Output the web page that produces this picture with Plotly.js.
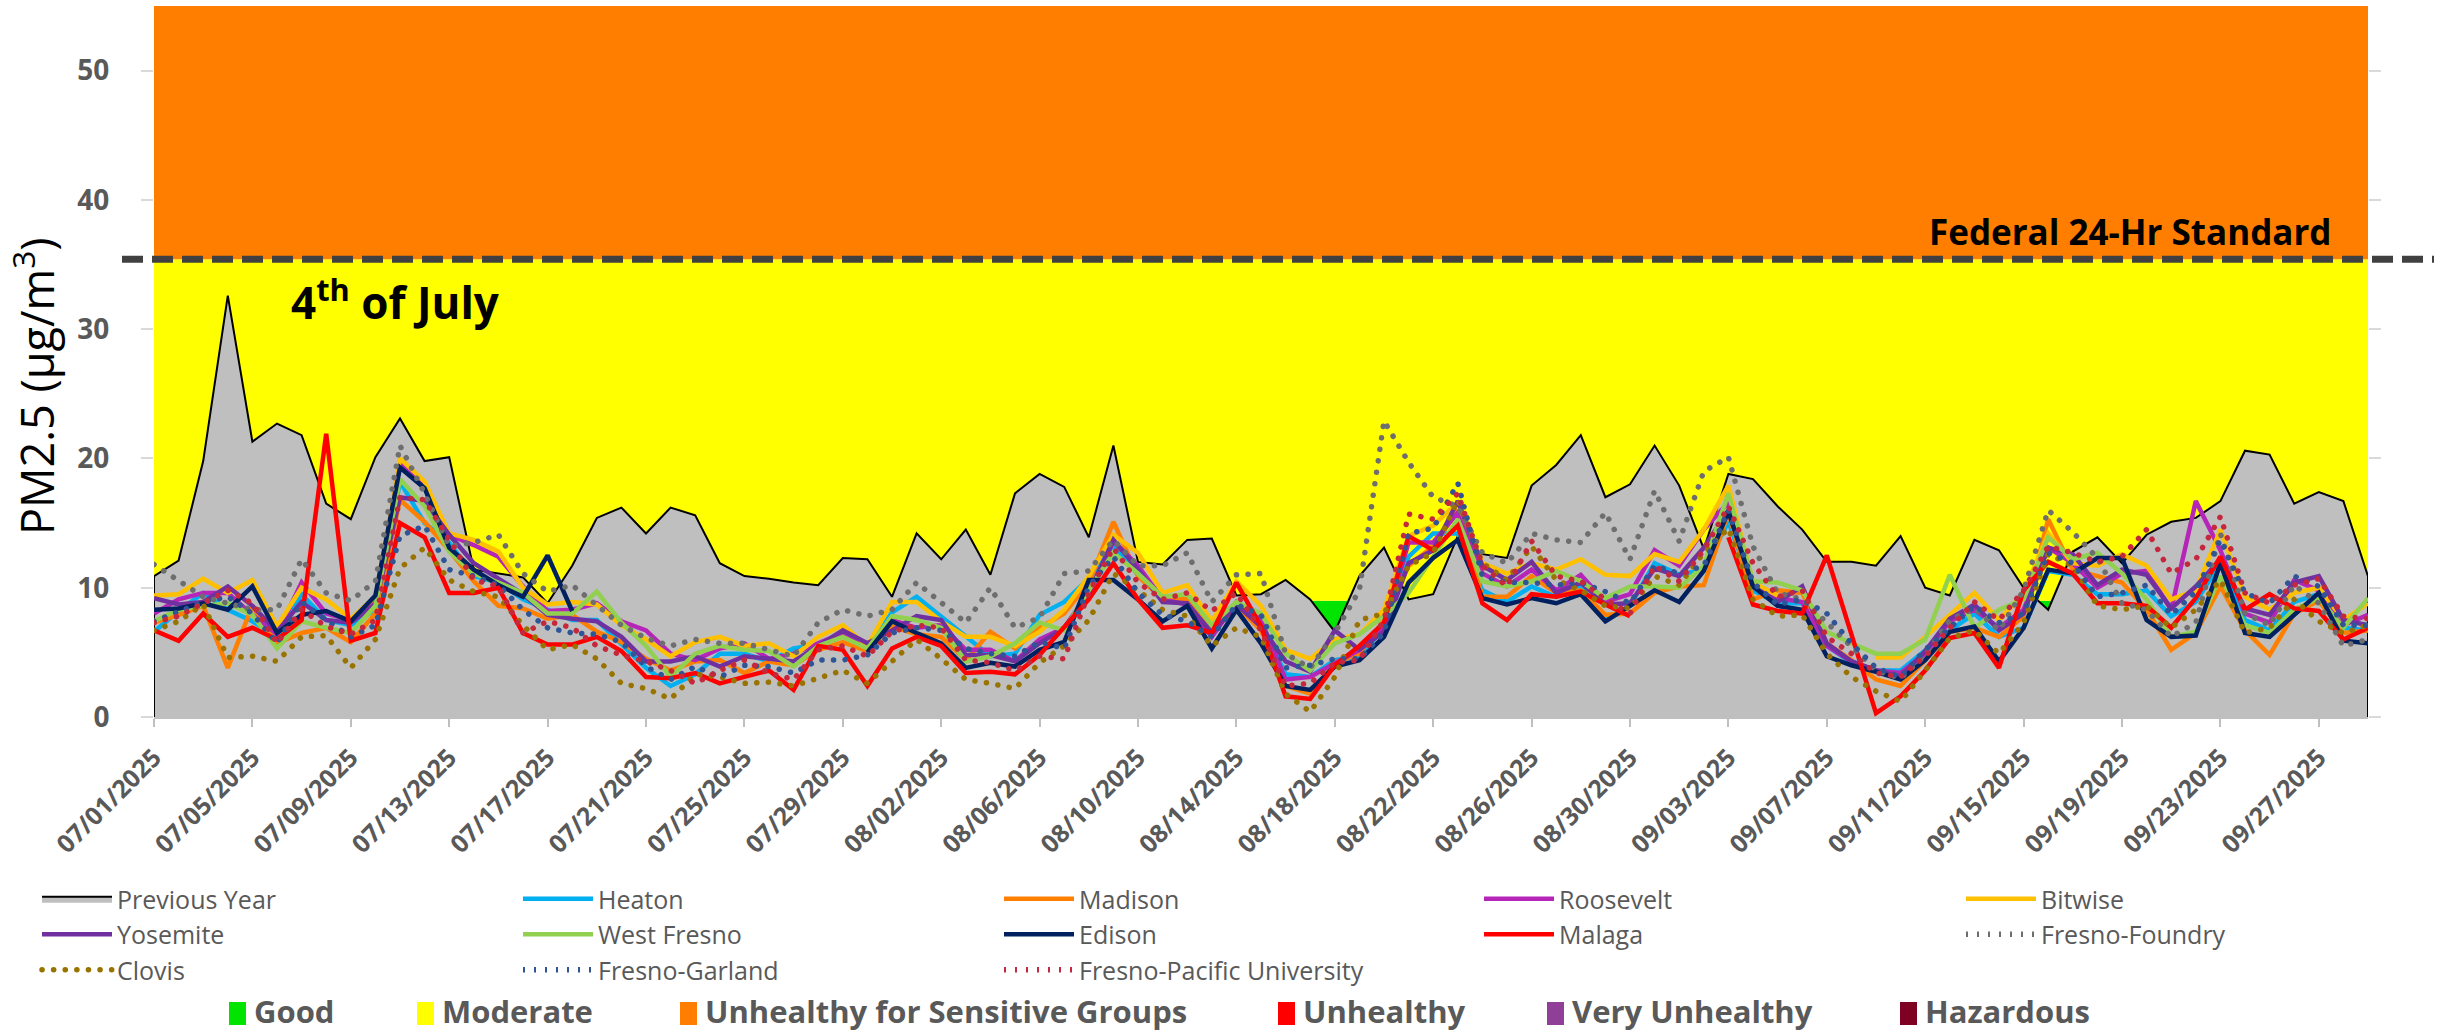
<!DOCTYPE html>
<html><head><meta charset="utf-8">
<script src="https://cdn.plot.ly/plotly-3.0.1.min.js"></script>
<style>html,body{margin:0;padding:0;background:#fff;}#chart{width:2438px;height:1034px;}</style>
</head><body><div id="chart"></div>
<script>
// ---------- categories ----------
const firstDay = '2025-07-01';
const dayCount = 91;
const dates = [];
(function(){ const d0 = new Date(firstDay + 'T00:00:00Z');
  for (let i = 0; i < dayCount; i++) { const d = new Date(d0.getTime() + i*86400000);
    const mm = String(d.getUTCMonth()+1).padStart(2,'0'), dd = String(d.getUTCDate()).padStart(2,'0');
    dates.push(mm + '/' + dd + '/' + d.getUTCFullYear()); } })();
const tickLabels = ['07/01/2025','07/05/2025','07/09/2025','07/13/2025','07/17/2025','07/21/2025','07/25/2025','07/29/2025','08/02/2025','08/06/2025','08/10/2025','08/14/2025','08/18/2025','08/22/2025','08/26/2025','08/30/2025','09/03/2025','09/07/2025','09/11/2025','09/15/2025','09/19/2025','09/23/2025','09/27/2025'];

// ---------- series values (PM2.5, ug/m3) ----------
const previousYear = [10.9,12.1,19.8,32.6,21.3,22.7,21.8,16.5,15.3,20.1,23.1,19.8,20.1,11.4,11.1,10.8,8.8,11.7,15.4,16.2,14.2,16.2,15.6,11.9,10.9,10.7,10.4,10.2,12.3,12.2,9.3,14.2,12.2,14.5,11.0,17.3,18.8,17.8,13.9,21.0,12.0,11.8,13.7,13.8,9.4,9.5,10.6,9.1,6.6,10.9,13.1,9.1,9.5,14.0,12.6,12.3,17.9,19.5,21.8,17.0,18.0,21.0,17.9,13.0,18.8,18.4,16.3,14.5,12.0,12.0,11.7,14.0,10.0,9.4,13.7,12.9,10.0,8.3,12.8,13.9,11.9,14.1,15.1,15.4,16.7,20.6,20.3,16.5,17.4,16.7,10.9];
const heaton = [6.6,8.2,9.6,8.3,7.4,6.2,9.5,7.5,7.1,8.3,18.2,15.0,13.5,10.9,10.4,9.1,8.3,7.5,7.5,5.7,3.8,2.4,3.3,4.9,4.9,4.3,5.3,5.6,6.4,5.2,8.1,9.3,7.8,6.2,4.7,4.9,7.9,8.9,10.7,13.3,11.0,9.5,8.7,6.7,8.7,7.3,3.3,3.1,4.4,4.7,6.9,12.4,14.2,14.2,9.8,8.9,10.1,9.3,10.1,7.5,8.6,11.9,11.0,11.4,15.1,9.8,8.8,8.8,5.5,4.2,3.6,3.6,5.2,6.7,8.0,6.2,6.9,11.3,11.0,9.5,9.5,9.8,7.8,8.9,11.9,7.5,6.7,8.9,9.5,6.9,6.7];
const madison = [7.3,7.9,8.6,3.8,8.6,5.7,6.5,6.9,5.8,8.0,16.8,15.1,12.9,10.5,8.6,8.4,7.6,7.9,6.6,5.8,4.5,3.6,4.3,4.4,3.4,4.3,4.0,5.2,5.8,5.1,7.0,6.4,6.2,4.4,6.6,5.3,6.9,8.0,10.4,15.1,10.9,9.1,9.1,6.5,8.6,6.7,2.4,1.8,4.2,4.9,7.5,11.7,13.2,16.0,9.3,9.3,10.9,9.6,9.8,7.9,8.0,9.6,10.1,10.2,15.8,9.1,9.8,9.6,5.7,4.4,2.9,2.4,4.4,6.6,6.9,6.2,7.8,15.3,11.4,10.9,10.4,8.3,5.2,6.5,10.1,6.7,4.8,8.0,9.0,6.5,6.7];
const roosevelt = [8.0,9.1,9.6,9.6,7.9,6.4,10.4,8.0,7.5,8.9,19.7,17.9,14.1,13.3,12.4,10.1,8.2,8.3,8.8,7.4,6.7,4.9,4.4,5.3,5.7,4.5,4.9,5.7,6.5,5.5,7.5,6.9,7.1,5.2,5.2,4.3,6.0,6.9,9.3,13.6,11.7,9.1,8.7,6.2,8.9,7.5,2.9,3.1,4.2,5.2,6.9,13.5,13.5,15.8,11.1,10.1,11.4,9.8,11.0,8.9,9.5,12.9,11.7,14.5,16.6,10.2,9.2,8.9,5.5,4.3,3.6,3.4,4.9,7.4,8.3,6.9,8.3,13.1,11.9,10.0,11.1,11.3,8.3,16.7,12.9,8.0,7.3,10.6,9.8,7.1,7.9];
const bitwise = [9.4,9.5,10.7,9.6,10.6,7.0,10.0,9.1,7.6,9.3,20.0,18.2,14.2,13.7,12.8,10.0,8.7,8.9,8.7,7.1,6.0,4.7,5.8,6.2,5.5,5.7,4.7,6.2,7.1,5.5,8.9,8.9,7.4,6.2,6.2,5.5,6.6,8.3,10.9,14.1,12.7,9.6,10.2,7.4,10.5,8.6,5.2,4.5,6.0,6.4,8.3,14.0,14.8,16.6,11.9,11.1,11.9,11.4,12.2,11.0,10.9,12.6,12.0,14.5,17.9,10.4,9.4,null,null,null,4.6,4.6,6.2,7.9,9.6,7.5,9.6,14.2,11.9,11.7,12.6,11.7,9.1,9.8,14.5,9.3,8.3,9.6,10.0,7.5,8.8];
const yosemite = [9.2,8.7,8.9,10.1,8.6,6.6,8.9,7.5,7.3,8.7,17.0,16.7,14.1,11.9,10.7,9.5,7.9,7.6,7.4,6.2,4.3,4.3,4.7,3.9,4.7,4.5,4.3,5.5,6.7,5.7,6.7,7.8,7.5,4.8,4.8,4.3,5.7,6.9,9.6,13.7,11.4,8.9,8.8,6.5,8.7,7.0,4.3,3.5,6.7,5.2,6.6,11.9,12.9,16.7,11.7,10.6,12.0,9.6,10.4,8.7,8.8,11.5,10.9,13.1,16.0,10.1,8.9,10.1,5.7,4.3,3.6,3.1,5.1,7.6,8.7,6.7,8.0,13.1,12.6,10.2,11.4,11.0,8.4,10.1,12.2,8.4,7.9,10.4,10.9,7.5,7.1];
const westFresno = [7.4,8.3,8.6,8.8,7.9,5.3,7.4,6.9,6.5,8.6,18.4,16.3,12.8,11.1,10.4,9.6,8.0,8.0,9.7,7.3,5.5,3.1,4.9,5.5,5.2,5.1,3.9,5.5,6.2,5.3,7.8,7.5,6.9,4.3,4.7,5.7,7.3,6.7,9.8,12.7,11.1,9.3,9.5,7.1,8.9,8.0,4.9,3.6,5.7,6.4,7.8,9.6,12.4,15.3,10.5,10.1,10.5,11.3,10.5,9.2,10.1,10.1,10.0,11.7,17.3,10.5,10.4,9.8,6.6,5.7,4.9,4.9,6.0,11.0,6.9,8.3,9.1,13.9,12.2,12.7,11.1,9.1,6.2,6.6,10.9,7.1,6.5,8.3,9.2,6.9,9.2];
const edison = [8.3,8.4,8.8,8.3,10.1,6.5,7.9,8.2,7.4,9.4,19.3,17.7,13.1,11.4,10.2,9.3,12.5,8.2,null,null,null,null,null,null,null,null,null,null,null,5.0,7.4,6.5,5.7,3.8,4.2,3.9,5.2,5.8,10.6,10.6,9.1,7.4,8.6,5.3,8.3,5.7,2.4,2.1,3.9,4.4,6.2,10.4,12.3,13.7,9.2,8.7,9.2,8.8,9.5,7.4,8.6,9.8,8.9,11.3,15.9,10.1,8.6,8.3,4.7,4.0,3.5,2.9,4.4,6.6,7.0,4.3,6.9,11.4,11.1,12.3,12.3,7.5,6.2,6.3,11.9,6.5,6.2,7.9,9.6,5.9,5.7];
const malaga = [6.7,5.9,8.0,6.2,6.9,6.0,7.5,21.9,5.9,6.5,15.0,13.9,9.6,9.6,10.0,6.5,5.6,5.6,6.2,5.1,3.1,3.0,3.4,2.6,3.1,3.6,2.1,5.5,5.2,2.4,5.3,6.2,5.5,3.4,3.5,3.3,4.8,7.0,9.1,11.9,9.1,6.9,7.1,6.5,10.4,7.0,1.6,1.4,4.0,5.5,7.3,14.0,12.9,14.8,8.8,7.5,9.5,9.3,9.7,8.7,7.8,null,null,null,13.9,8.7,8.2,8.0,12.5,6.4,0.3,1.6,3.6,6.1,6.5,3.8,9.8,12.0,11.1,8.8,8.8,8.6,6.9,9.2,12.4,8.3,9.5,8.4,8.2,6.0,6.9];
const fresnoFoundry = [11.8,10.6,9.3,8.8,8.3,8.3,12.2,9.6,9.0,10.5,21.0,17.3,13.2,13.5,14.1,11.1,9.7,10.2,8.6,7.1,6.1,5.5,6.0,5.7,5.7,5.2,4.7,7.3,8.3,7.8,8.3,10.4,8.9,7.3,10.0,6.9,7.7,11.1,11.3,13.7,11.7,11.7,12.7,8.9,11.0,11.1,4.9,3.8,6.5,9.8,22.9,19.7,17.0,16.3,12.7,11.9,14.2,13.7,13.5,15.8,12.2,17.5,13.6,19.0,20.1,13.2,9.6,9.1,7.3,5.5,3.6,3.0,4.8,7.5,8.4,6.7,9.8,16.0,14.3,12.3,8.8,8.3,6.2,7.3,14.2,8.0,7.1,10.2,8.8,5.5,6.0];
const clovis = [6.7,7.4,8.7,4.6,4.7,4.3,6.2,6.3,3.8,6.0,11.5,13.1,10.6,9.7,9.3,7.1,5.2,5.6,4.5,2.6,2.2,1.4,3.3,3.1,2.6,2.7,2.4,3.0,3.6,2.6,4.3,6.0,4.5,2.9,2.6,2.2,4.2,5.5,7.5,11.1,9.8,8.3,7.8,5.5,6.9,6.2,1.8,0.4,3.1,7.5,8.0,11.7,12.7,16.8,11.9,10.6,13.2,10.6,9.8,8.6,8.4,10.9,10.2,12.7,14.6,9.1,7.8,7.9,4.9,3.1,2.0,1.2,3.6,6.1,6.7,4.9,7.3,12.6,11.7,8.6,8.3,8.6,6.9,8.3,10.6,6.5,6.9,9.1,7.4,6.5,7.1];
const fresnoGarland = [7.4,8.2,8.9,9.3,8.0,5.7,8.9,7.5,6.2,7.1,14.0,14.8,11.4,10.9,10.2,8.3,6.9,6.5,6.4,5.8,3.9,2.9,3.9,3.1,4.0,3.9,3.4,4.4,4.4,4.8,6.5,6.9,6.7,5.3,4.9,4.7,5.8,5.3,10.1,12.4,9.6,7.9,7.4,6.2,8.7,7.9,3.8,4.0,4.5,4.5,6.5,14.2,14.6,18.1,10.9,10.4,10.4,10.2,10.4,9.7,8.8,11.7,11.1,11.7,16.0,10.4,8.7,9.1,8.0,5.7,3.8,3.1,5.2,6.9,8.6,7.3,8.0,12.7,11.9,9.3,9.6,10.2,7.9,9.7,13.7,9.6,8.8,10.9,10.1,7.1,7.1];
const fresnoPacific = [7.3,7.8,8.8,9.8,8.8,5.7,8.3,7.0,6.4,7.5,17.0,16.8,13.7,10.6,10.1,6.5,7.4,6.9,5.5,4.8,4.3,3.6,2.6,3.6,4.4,3.4,2.9,5.2,5.5,4.7,6.6,7.1,6.9,4.4,4.2,3.6,4.7,4.5,9.6,13.1,10.4,9.1,9.6,8.2,9.6,6.7,2.4,2.6,4.2,4.4,7.5,15.7,15.3,17.3,11.7,10.1,13.6,10.9,10.5,9.1,8.0,11.7,10.5,12.9,16.3,11.9,9.3,9.8,6.2,4.9,3.4,3.1,4.7,6.9,8.9,7.5,9.8,13.2,12.7,12.0,12.4,14.5,11.1,12.2,15.5,9.6,8.8,10.2,10.7,7.8,7.6];

// AQI categories and thresholds
const aqiNames = ['Good','Moderate','Unhealthy for Sensitive Groups','Unhealthy','Very Unhealthy','Hazardous'];
const aqiColors = ['#00E400','#FFFF00','#FF7E00','#FF0000','#8F3F97','#7E0023'];
const bandEdges = [0, 9, 35.4, 55];
const federalStandard = 35.4;

// ---------- geometry helpers ----------
const L = 154, R = 2368, T = 6, B = 717;
const px = x => (x - L) / (R - L);
const py = y => (B - y) / (B - T);

const stations = [
  {name:'Heaton', y:heaton, color:'#00B0F0', dot:false},
  {name:'Madison', y:madison, color:'#FF8000', dot:false},
  {name:'Roosevelt', y:roosevelt, color:'#B526B8', dot:false},
  {name:'Bitwise', y:bitwise, color:'#FFC000', dot:false},
  {name:'Yosemite', y:yosemite, color:'#7030A0', dot:false},
  {name:'West Fresno', y:westFresno, color:'#92D050', dot:false},
  {name:'Edison', y:edison, color:'#002060', dot:false},
  {name:'Malaga', y:malaga, color:'#FF0000', dot:false},
  {name:'Fresno-Foundry', y:fresnoFoundry, color:'#6E6E6E', dot:true},
  {name:'Clovis', y:clovis, color:'#997300', dot:true},
  {name:'Fresno-Garland', y:fresnoGarland, color:'#2F5597', dot:true},
  {name:'Fresno-Pacific University', y:fresnoPacific, color:'#C5283D', dot:true}
];

// legend columns (5 columns, filled row by row)
const legendIds = ['legend','legend2','legend3','legend4','legend5'];
const legendColX = [48, 529, 1010, 1490, 1972];

const data = [{
  type:'scatter', mode:'lines', name:'Previous Year', legend:legendIds[0],
  x:[dates[0]].concat(dates, [dates[dates.length-1]]),
  y:[0].concat(previousYear, [0]),
  fill:'tozeroy', fillcolor:'#BFBFBF', line:{color:'#000000', width:2}, hoverinfo:'skip'
}];
stations.forEach((s, i) => data.push({
  type:'scatter', mode:'lines', name:s.name, x:dates, y:s.y, connectgaps:false,
  legend: legendIds[(i + 1) % 5],
  line: s.dot ? {color:s.color, width:5.5, dash:'2px,9px'} : {color:s.color, width:4.5}
}));

const shapes = [];
for (let i = 0; i < 3; i++) shapes.push({type:'rect', xref:'paper', yref:'y', x0:0, x1:1, y0:bandEdges[i], y1:bandEdges[i+1], fillcolor:aqiColors[i], line:{width:0}, layer:'below'});
shapes.push({type:'line', xref:'paper', yref:'y', x0:px(122), x1:px(2434), y0:federalStandard, y1:federalStandard, line:{color:'#404040', width:7, dash:'21px,9px'}, layer:'above'});

const keyRectX = [229, 417, 680, 1278, 1547, 1900];
const annotations = [];
aqiNames.forEach((n, i) => {
  shapes.push({type:'rect', xref:'paper', yref:'paper', x0:px(keyRectX[i]), x1:px(keyRectX[i]+17), y0:py(1025), y1:py(1002), fillcolor:aqiColors[i], line:{width:0}});
  annotations.push({xref:'paper', yref:'paper', x:px(keyRectX[i]+24), y:py(1011), xanchor:'left', yanchor:'middle', showarrow:false, borderpad:0, text:'<b>' + n + '</b>', font:{family:'Open Sans', size:31, color:'#595959'}});
});
annotations.push({xref:'paper', yref:'paper', x:px(289), y:py(300), xanchor:'left', yanchor:'middle', showarrow:false, text:'<b>4<sup>th</sup> of July</b>', font:{family:'Open Sans', size:44, color:'#000000'}});
annotations.push({xref:'paper', yref:'paper', x:px(2334), y:py(232), xanchor:'right', yanchor:'middle', showarrow:false, text:'<b>Federal 24-Hr Standard</b>', font:{family:'Open Sans', size:35, color:'#000000'}});
// y-axis title
annotations.push({xref:'paper', yref:'paper', x:px(34), y:py(386), xanchor:'center', yanchor:'middle', textangle:-90, showarrow:false, text:'PM2.5 (µg/m<sup>3</sup>)', font:{family:'Open Sans', size:45, color:'#000000'}});

const layout = {
  width:2438, height:1034, margin:{l:L, r:2438-R, t:T, b:1034-B}, paper_bgcolor:'#ffffff', plot_bgcolor:'#ffffff',
  font:{family:'Open Sans', color:'#595959'}, showlegend:true,
  xaxis:{type:'category', range:[0, dates.length-1], tickvals:tickLabels, ticktext:tickLabels, tickangle:-45,
    tickfont:{family:'Open Sans', size:25, color:'#595959', weight:'bold'}, ticks:'outside', ticklen:8, tickcolor:'#BFBFBF', tickwidth:2,
    showline:true, linecolor:'#BFBFBF', linewidth:2, showgrid:false, zeroline:false, automargin:false, ticklabelstandoff:6},
  yaxis:{range:[0,55], tickvals:[0,10,20,30,40,50], showgrid:false, zeroline:false, ticks:'outside', ticklen:12, tickcolor:'#D9D9D9', tickwidth:2, mirror:'ticks',
    tickfont:{family:'Open Sans', size:28, color:'#595959', weight:'bold'}, automargin:false, ticklabelstandoff:26},
  shapes:shapes, annotations:annotations
};
legendIds.forEach((id, c) => {
  layout[id] = {orientation:'v', x:px(legendColX[c] - 11), xanchor:'left', y:py(876), yanchor:'top', itemwidth:70,
    font:{family:'Open Sans', size:25, color:'#595959'}, bgcolor:'rgba(0,0,0,0)', traceorder:'normal', tracegroupgap:0};
});

function styleDots(gd){
  const dotted = {};
  stations.forEach((s, i) => { if (s.dot) dotted[s.name] = i + 1; });
  const tr = gd.querySelectorAll('.scatterlayer .trace');
  Object.values(dotted).forEach(i => {
    if (tr[i]) tr[i].querySelectorAll('path.js-line').forEach(p => { p.style.strokeDasharray = '0.1px,11.5px'; p.style.strokeLinecap = 'round'; });
  });
  gd.querySelectorAll('.infolayer g.traces').forEach(g => {
    const t = g.querySelector('text.legendtext');
    if (t && dotted[t.textContent] !== undefined) {
      g.querySelectorAll('.legendlines path').forEach(p => { p.style.strokeDasharray = '0.1px,11.5px'; p.style.strokeLinecap = 'round'; });
    }
  });
}
Plotly.newPlot('chart', data, layout, {displayModeBar:false, staticPlot:true}).then(gd => { styleDots(gd); gd.on('plotly_afterplot', () => styleDots(gd)); });
</script></body></html>
